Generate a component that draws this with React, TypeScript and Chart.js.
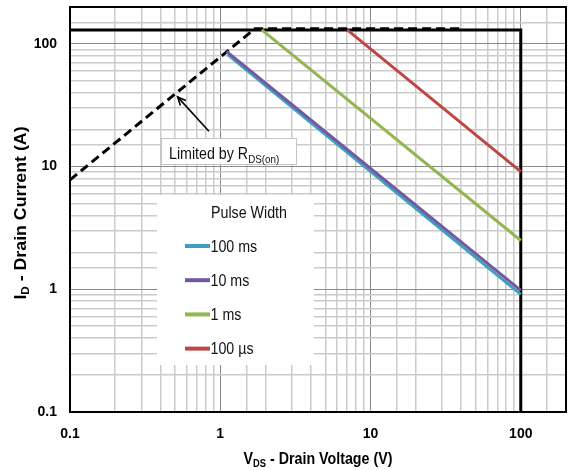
import React, { useEffect, useRef } from 'react';
import { Chart, registerables } from 'chart.js';

Chart.register(...registerables);

// ---- data ----
const xTickValues = [0.1, 1, 10, 100];
const xTickLabels = ['0.1', '1', '10', '100'];
const yTickValues = [0.1, 1, 10, 100];
const yTickLabels = ['0.1', '1', '10', '100'];

const seriesNames = ['100 ms', '10 ms', '1 ms', '100 \u00B5s'];
const seriesColors = ['#3FA0BD', '#7457A1', '#93B651', '#BE4743'];

const ms100V = [1.12, 100];
const ms100I = [82, 0.91];
const ms10V = [1.1, 100];
const ms10I = [87, 0.98];
const ms1V = [1.89, 100];
const ms1I = [130, 2.5];
const us100V = [7.0, 100];
const us100I = [130, 9.1];

const rdsV = [0.1, 1.7, 40];
const rdsI = [7.8, 133, 133];
const limitV = [0.1, 100, 100];
const limitI = [130, 130, 0.1];
const arrowV = [0.84, 0.52];
const arrowI = [19.4, 37];

const legendTitle = 'Pulse Width';
const noteMain = 'Limited by R';
const noteSub = 'DS(on)';
const xTitleMain = 'V';
const xTitleSub = 'DS';
const xTitleRest = ' - Drain Voltage (V)';
const yTitleMain = 'I';
const yTitleSub = 'D';
const yTitleRest = ' - Drain Current (A)';

// ---- helpers ----
const FONT = '"Liberation Sans", Arial, Helvetica, sans-serif';
const SQ = 0.89;

type Run = { t: string; size: number; bold: boolean; dy: number };

function fontOf(r: Run) {
  return `${r.bold ? 'bold ' : ''}${r.size}px ${FONT}`;
}

function drawRuns(ctx: CanvasRenderingContext2D, runs: Run[], x: number, y: number, align: 'left' | 'center', sx: number) {
  ctx.save();
  ctx.translate(x, y);
  ctx.scale(sx, 1);
  ctx.textAlign = 'left';
  ctx.textBaseline = 'alphabetic';
  let w = 0;
  for (const r of runs) {
    ctx.font = fontOf(r);
    w += ctx.measureText(r.t).width;
  }
  let cx = align === 'center' ? -w / 2 : 0;
  for (const r of runs) {
    ctx.font = fontOf(r);
    ctx.fillText(r.t, cx, r.dy);
    cx += ctx.measureText(r.t).width;
  }
  ctx.restore();
}

const isMajor = (v: number) => Math.abs(Math.log10(v) - Math.round(Math.log10(v))) < 1e-6;
const toPts = (xs: number[], ys: number[]) => xs.map((x, i) => ({ x, y: ys[i] }));

const decorPlugin = {
  id: 'soaDecor',
  afterDatasetsDraw(chart: any) {
    const { ctx, chartArea: a, scales } = chart;
    const xs = scales.x;
    const ys = scales.y;
    ctx.save();
    // arrow head
    const tx = xs.getPixelForValue(arrowV[1]);
    const ty = ys.getPixelForValue(arrowI[1]);
    const fx = xs.getPixelForValue(arrowV[0]);
    const fy = ys.getPixelForValue(arrowI[0]);
    const ang = Math.atan2(ty - fy, tx - fx);
    const L = 9;
    const sp = 0.42;
    ctx.strokeStyle = '#000';
    ctx.lineWidth = 1.6;
    ctx.beginPath();
    ctx.moveTo(tx - L * Math.cos(ang - sp), ty - L * Math.sin(ang - sp));
    ctx.lineTo(tx, ty);
    ctx.lineTo(tx - L * Math.cos(ang + sp), ty - L * Math.sin(ang + sp));
    ctx.stroke();

    // note box
    const nx = a.left + 91;
    const ny = a.top + 131;
    const nw = 135;
    const nh = 26;
    ctx.fillStyle = '#fff';
    ctx.fillRect(nx, ny, nw, nh);
    ctx.strokeStyle = '#c4c4c4';
    ctx.lineWidth = 1;
    ctx.strokeRect(nx + 0.5, ny + 0.5, nw, nh);
    ctx.fillStyle = '#111';
    drawRuns(ctx, [
      { t: noteMain, size: 16, bold: false, dy: 0 },
      { t: noteSub, size: 11, bold: false, dy: 3.5 },
    ], nx + 8, ny + 21, 'left', SQ);

    // legend box
    const lx = a.left + 87;
    const ly = a.top + 188;
    const lw = 157;
    const lh = 170;
    ctx.fillStyle = '#fff';
    ctx.fillRect(lx, ly, lw, lh);
    ctx.fillStyle = '#111';
    drawRuns(ctx, [{ t: legendTitle, size: 16, bold: false, dy: 0 }], lx + 54, ly + 22.5, 'left', SQ);
    for (let i = 0; i < seriesNames.length; i++) {
      const yy = ly + 51 + i * 34.2;
      ctx.strokeStyle = seriesColors[i];
      ctx.lineWidth = 4;
      ctx.beginPath();
      ctx.moveTo(lx + 28, yy);
      ctx.lineTo(lx + 53, yy);
      ctx.stroke();
      ctx.fillStyle = '#111';
      drawRuns(ctx, [{ t: seriesNames[i], size: 16, bold: false, dy: 0 }], lx + 53.5, yy + 5.5, 'left', SQ);
    }
    ctx.restore();
  },
  afterDraw(chart: any) {
    const { ctx, chartArea: a } = chart;
    ctx.save();
    ctx.strokeStyle = '#000';
    ctx.lineWidth = 2;
    ctx.strokeRect(a.left, a.top, a.right - a.left, a.bottom - a.top);

    ctx.fillStyle = '#000';
    // x title
    drawRuns(ctx, [
      { t: xTitleMain, size: 16, bold: true, dy: 0 },
      { t: xTitleSub, size: 10.5, bold: true, dy: 3 },
      { t: xTitleRest, size: 16, bold: true, dy: 0 },
    ], (a.left + a.right) / 2, 464, 'center', SQ);

    // y title
    ctx.save();
    ctx.translate(26, 213);
    ctx.rotate(-Math.PI / 2);
    drawRuns(ctx, [
      { t: yTitleMain, size: 16, bold: true, dy: 0 },
      { t: yTitleSub, size: 10.5, bold: true, dy: 3 },
      { t: yTitleRest, size: 16, bold: true, dy: 0 },
    ], 0, 0, 'center', 1.11);
    ctx.restore();
    ctx.restore();
  },
};

function tickLabel(values: number[], labels: string[]) {
  return (value: any) => {
    const v = Number(value);
    const i = values.findIndex((t) => Math.abs(t - v) / t < 1e-6);
    return i >= 0 ? labels[i] : '';
  };
}

const gridOpts = {
  color: (c: any) => (c.tick && isMajor(c.tick.value) ? '#8a8a8a' : '#cbcbcb'),
  lineWidth: (c: any) => (c.tick && isMajor(c.tick.value) ? 1 : 1.5),
  drawTicks: false,
};

export default function App() {
  const ref = useRef<HTMLCanvasElement | null>(null);

  useEffect(() => {
    if (!ref.current) return;
    const common = { showLine: true, pointRadius: 0, pointHoverRadius: 0, fill: false, tension: 0, borderCapStyle: 'butt' as const };
    const chart = new Chart(ref.current, {
      type: 'scatter',
      data: {
        datasets: [
          { ...common, label: 'arrow', data: toPts(arrowV, arrowI), borderColor: '#000', borderWidth: 1.6 },
          { ...common, label: seriesNames[1], data: toPts(ms10V, ms10I), borderColor: seriesColors[1], borderWidth: 3 },
          { ...common, label: seriesNames[0], data: toPts(ms100V, ms100I), borderColor: seriesColors[0], borderWidth: 3 },
          { ...common, label: seriesNames[2], data: toPts(ms1V, ms1I), borderColor: seriesColors[2], borderWidth: 3 },
          { ...common, label: seriesNames[3], data: toPts(us100V, us100I), borderColor: seriesColors[3], borderWidth: 3 },
          { ...common, label: 'RDS(on) limit', data: toPts(rdsV, rdsI), borderColor: '#000', borderWidth: 3, borderDash: [9, 5] },
          { ...common, label: 'limit', data: toPts(limitV, limitI), borderColor: '#000', borderWidth: 3, borderCapStyle: 'square' as const },
        ],
      },
      options: {
        animation: false,
        responsive: false,
        devicePixelRatio: 1,
        layout: { padding: { top: 7, right: 3, left: 0, bottom: 0 } },
        plugins: { legend: { display: false }, tooltip: { enabled: false } },
        scales: {
          x: {
            type: 'logarithmic',
            min: 0.1,
            max: 200,
            grid: gridOpts as any,
            border: { display: false },
            afterFit: (s: any) => { s.height = 58; s.paddingLeft = 0; s.paddingRight = 0; },
            ticks: {
              autoSkip: false,
              maxRotation: 0,
              minRotation: 0,
              padding: 14,
              color: '#000',
              font: { family: FONT, size: 14, weight: 'bold' },
              callback: tickLabel(xTickValues, xTickLabels),
            },
          },
          y: {
            type: 'logarithmic',
            min: 0.1,
            max: 200,
            grid: gridOpts as any,
            border: { display: false },
            afterFit: (s: any) => { s.width = 70; s.paddingTop = 0; s.paddingBottom = 0; },
            ticks: {
              autoSkip: false,
              padding: 13,
              color: '#000',
              font: { family: FONT, size: 14, weight: 'bold' },
              callback: tickLabel(yTickValues, yTickLabels),
            },
          },
        },
      } as any,
      plugins: [decorPlugin as any],
    });
    return () => chart.destroy();
  }, []);

  return (
    <div style={{ position: 'absolute', left: 0, top: 0, width: 569, height: 470, background: '#fff' }}>
      <canvas ref={ref} width={569} height={470} style={{ display: 'block', width: 569, height: 470 }} />
    </div>
  );
}
